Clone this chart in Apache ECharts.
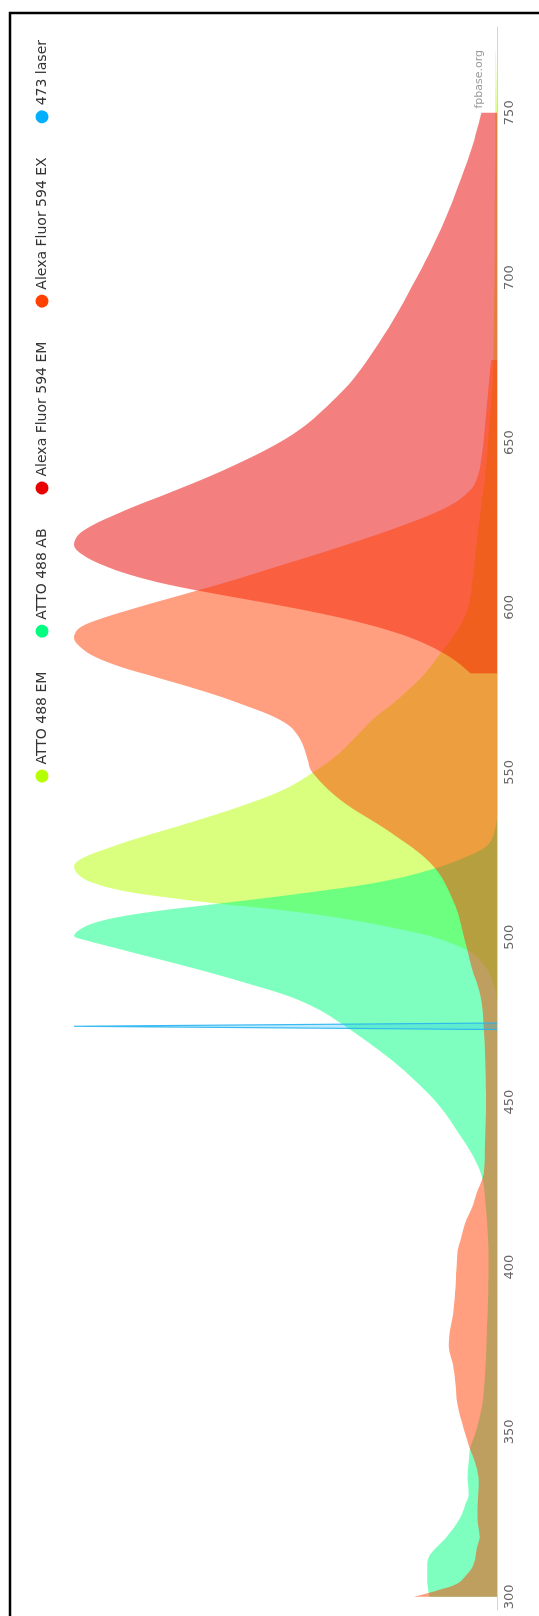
<!DOCTYPE html>
<html>
<head>
<meta charset="utf-8">
<script src="https://cdn.jsdelivr.net/npm/echarts@6/dist/echarts.min.js"></script>
<style>
  html, body { margin: 0; padding: 0; background: #fff; overflow: hidden; }
  #page { position: relative; width: 539px; height: 1616px; overflow: hidden; }
  #chart { position: absolute; left: 0; top: 0; width: 1616px; height: 539px;
           transform-origin: 0 0; transform: translate(0px, 1616px) rotate(-90deg); }
</style>
</head>
<body>
<div id="page"><div id="chart"></div></div>
<script>
// ---- data (wavelength in nm, normalized intensity) ----
const wavelengthTicks = [300, 350, 400, 450, 500, 550, 600, 650, 700, 750];

const attoEmWl = [480, 485, 490, 493, 495.6, 499.4, 502, 505.8, 508.5, 510.2, 511.8, 514, 516.7, 519, 521.5, 524, 527, 530, 535, 540, 545, 550, 555, 560, 566.5, 570, 575, 580, 586, 590, 595, 600, 610, 620, 630, 640, 650, 660, 670, 680, 700, 725, 750, 771];
const attoEmVal = [0, 0.006, 0.022, 0.04, 0.063, 0.134, 0.213, 0.37, 0.528, 0.661, 0.764, 0.882, 0.96, 0.99, 1.0, 0.98, 0.92, 0.85, 0.72, 0.6, 0.5, 0.435, 0.38, 0.34, 0.29, 0.255, 0.21, 0.17, 0.134, 0.11, 0.085, 0.068, 0.056, 0.048, 0.038, 0.028, 0.021, 0.015, 0.01, 0.008, 0.006, 0.005, 0.004, 0.003];

const attoAbWl = [300, 305, 310, 313, 318, 324, 328, 331, 336, 341, 345, 350, 355, 360, 370, 380, 390, 400, 410, 420, 427, 432, 437, 442, 447, 452, 457, 462, 466, 470, 474, 478, 482, 486, 490, 494, 497, 499, 500.5, 502, 504, 506, 508, 510, 512, 514, 516, 518, 520, 522, 524, 526, 528, 531, 536];
const attoAbVal = [0.16, 0.165, 0.165, 0.157, 0.12, 0.087, 0.075, 0.067, 0.07, 0.067, 0.064, 0.05, 0.04, 0.033, 0.027, 0.024, 0.021, 0.02, 0.022, 0.028, 0.035, 0.05, 0.072, 0.098, 0.125, 0.158, 0.198, 0.242, 0.282, 0.325, 0.37, 0.42, 0.49, 0.59, 0.7, 0.82, 0.91, 0.97, 1.0, 0.99, 0.96, 0.9, 0.8, 0.67, 0.54, 0.42, 0.31, 0.23, 0.17, 0.12, 0.08, 0.045, 0.022, 0.008, 0];

const af594EmWl = [580, 583, 586, 589, 592, 595, 598, 601, 604, 607, 610, 613, 616, 619, 622, 625, 628, 631, 635, 640, 645, 650, 655, 660, 665, 670, 680, 690, 700, 710, 720, 730, 740, 750];
const af594EmVal = [0.063, 0.09, 0.125, 0.17, 0.23, 0.31, 0.41, 0.53, 0.66, 0.78, 0.87, 0.935, 0.98, 1.0, 0.99, 0.955, 0.905, 0.85, 0.77, 0.675, 0.59, 0.515, 0.455, 0.41, 0.37, 0.335, 0.28, 0.232, 0.19, 0.15, 0.115, 0.085, 0.058, 0.037];

const af594ExWl = [300, 302, 304, 307, 310, 315, 318, 324, 330, 335, 340, 345.9, 352.9, 358.7, 364.5, 370.3, 376.2, 379.7, 384.3, 387.8, 393.6, 399.4, 405.2, 408.7, 413.4, 418, 422.7, 426.7, 430, 440, 450, 460, 470, 480, 485, 490, 495, 500, 510, 521.5, 531.8, 541.6, 550, 554, 558, 561, 564, 567, 570, 573, 576, 579, 582, 585, 588, 590.8, 593.5, 596, 600, 604, 608, 612, 618, 625, 631, 636, 640, 645, 650, 660, 670, 675];
const af594ExVal = [0.197, 0.14, 0.094, 0.07, 0.055, 0.047, 0.041, 0.046, 0.045, 0.043, 0.05, 0.067, 0.083, 0.094, 0.098, 0.104, 0.114, 0.112, 0.106, 0.102, 0.098, 0.096, 0.093, 0.085, 0.075, 0.059, 0.047, 0.035, 0.03, 0.028, 0.026, 0.027, 0.03, 0.036, 0.045, 0.058, 0.068, 0.078, 0.1, 0.15, 0.252, 0.37, 0.437, 0.448, 0.458, 0.47, 0.49, 0.53, 0.59, 0.655, 0.73, 0.81, 0.89, 0.95, 0.985, 1.0, 0.99, 0.95, 0.85, 0.74, 0.63, 0.53, 0.38, 0.22, 0.11, 0.06, 0.045, 0.037, 0.032, 0.025, 0.018, 0.014];

const laserWl = [472, 473, 474];
const laserVal = [0, 1, 0];

const seriesNames = ['ATTO 488 EM', 'ATTO 488 AB', 'Alexa Fluor 594 EM', 'Alexa Fluor 594 EX', '473 laser'];
const seriesColors = ['rgb(182,255,0)', 'rgb(0,255,128)', 'rgb(233,0,0)', 'rgb(255,64,0)', 'rgb(0,176,255)'];

// ---- build ----
function zip(xs, ys) { return xs.map((x, i) => [x, ys[i]]); }
const dataSets = [zip(attoEmWl, attoEmVal), zip(attoAbWl, attoAbVal), zip(af594EmWl, af594EmVal), zip(af594ExWl, af594ExVal), zip(laserWl, laserVal)];

const FONT = "'DejaVu Sans', sans-serif";
const series = dataSets.map((d, i) => {
  const isLaser = i === 4;
  return {
    name: seriesNames[i],
    type: 'line',
    data: d,
    showSymbol: false,
    smooth: isLaser ? false : 0.35,
    color: seriesColors[i],
    lineStyle: isLaser ? { width: 1.2, color: 'rgba(40,180,240,0.9)' } : { width: 0, opacity: 0 },
    areaStyle: { color: seriesColors[i], opacity: isLaser ? 0.25 : 0.5 },
    emphasis: { disabled: true },
    silent: true
  };
});

const chart = echarts.init(document.getElementById('chart'), null, { renderer: 'canvas', devicePixelRatio: 1 });
chart.setOption({
  animation: false,
  backgroundColor: '#fff',
  grid: { left: 6, right: 27, top: 74, bottom: 42, containLabel: false },
  legend: {
    data: seriesNames,
    icon: 'circle',
    itemWidth: 13, itemHeight: 13,
    itemGap: 34,
    right: 35, top: 30,
    textStyle: { fontSize: 14, color: '#333', fontFamily: FONT }
  },
  xAxis: {
    type: 'value', min: 296, max: 776,
    axisLine: { show: true, lineStyle: { color: '#ccd6eb', width: 1 } },
    axisTick: { show: false, customValues: wavelengthTicks },
    splitLine: { show: false },
    axisLabel: { customValues: wavelengthTicks, color: '#666', fontSize: 13, fontFamily: FONT, margin: 6 }
  },
  yAxis: { type: 'value', min: 0, max: 1, show: false, splitLine: { show: false } },
  graphic: [
    { type: 'rect', silent: true, z: 100,
      shape: { x: -10, y: 10, width: 1613, height: 600 },
      style: { fill: 'none', stroke: '#000', lineWidth: 2.5 } },
    { type: 'text', silent: true, right: 50, top: 474,
      style: { text: 'fpbase.org', fill: '#999', font: "11px 'DejaVu Sans', sans-serif" } }
  ],
  series: series
});
</script>
</body>
</html>
